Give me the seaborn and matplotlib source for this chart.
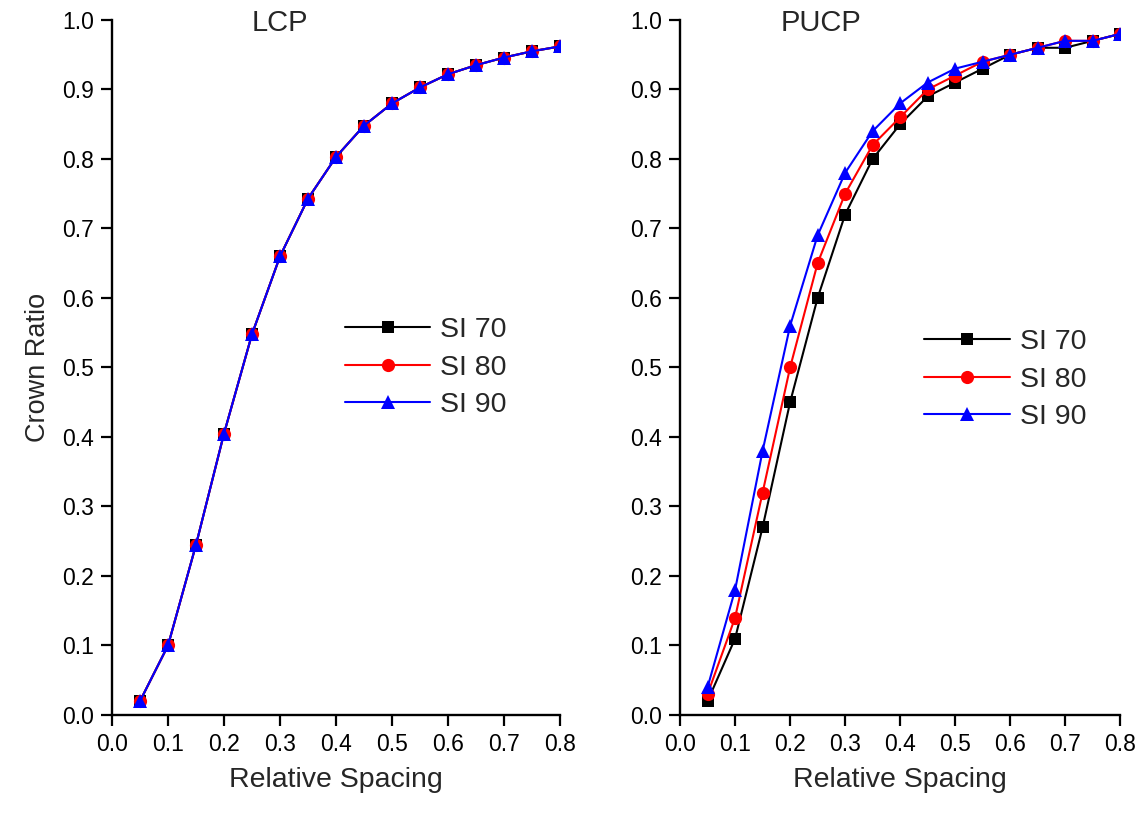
import numpy as np
import pandas as pd
import matplotlib
matplotlib.use("Agg")
import matplotlib.pyplot as plt
import seaborn as sns

# ---- data ----
spacing = [0.05, 0.10, 0.15, 0.20, 0.25, 0.30, 0.35, 0.40,
           0.45, 0.50, 0.55, 0.60, 0.65, 0.70, 0.75, 0.80]

lcp_si70 = [0.02, 0.10, 0.245, 0.405, 0.548, 0.66, 0.743, 0.803,
            0.848, 0.88, 0.903, 0.922, 0.935, 0.946, 0.955, 0.962]
lcp_si80 = [0.02, 0.10, 0.245, 0.405, 0.548, 0.66, 0.743, 0.803,
            0.848, 0.88, 0.903, 0.922, 0.935, 0.946, 0.955, 0.962]
lcp_si90 = [0.02, 0.10, 0.245, 0.405, 0.548, 0.66, 0.743, 0.803,
            0.848, 0.88, 0.903, 0.922, 0.935, 0.946, 0.955, 0.962]

pucp_si70 = [0.02, 0.11, 0.27, 0.45, 0.60, 0.72, 0.80, 0.85,
             0.89, 0.91, 0.93, 0.95, 0.96, 0.96, 0.97, 0.98]
pucp_si80 = [0.03, 0.14, 0.32, 0.50, 0.65, 0.75, 0.82, 0.86,
             0.90, 0.92, 0.94, 0.95, 0.96, 0.97, 0.97, 0.98]
pucp_si90 = [0.04, 0.18, 0.38, 0.56, 0.69, 0.78, 0.84, 0.88,
             0.91, 0.93, 0.94, 0.95, 0.96, 0.97, 0.97, 0.98]

series_names = ["SI 70", "SI 80", "SI 90"]
panel_titles = ["LCP", "PUCP"]
x_ticks = [0.0, 0.1, 0.2, 0.3, 0.4, 0.5, 0.6, 0.7, 0.8]
y_ticks = [0.0, 0.1, 0.2, 0.3, 0.4, 0.5, 0.6, 0.7, 0.8, 0.9, 1.0]


def long_frame(vals):
    rows = []
    for name, v in zip(series_names, vals):
        for x, y in zip(spacing, v):
            rows.append({"Relative Spacing": x, "Crown Ratio": y, "Site": name})
    return pd.DataFrame(rows)


df_lcp = long_frame([lcp_si70, lcp_si80, lcp_si90])
df_pucp = long_frame([pucp_si70, pucp_si80, pucp_si90])

sns.set_style("ticks")
plt.rcParams['font.family'] = ['Liberation Sans', 'DejaVu Sans']

palette = {"SI 70": "black", "SI 80": "#ff0000", "SI 90": "#0000ff"}
markers = {"SI 70": "s", "SI 80": "o", "SI 90": "^"}
sizes_m = {"SI 70": 8.5, "SI 80": 9.5, "SI 90": 10.5}

fig = plt.figure(figsize=(11.43, 8.26), dpi=100)
ax1 = fig.add_axes([0.098, 0.1344, 0.392, 0.8414])
ax2 = fig.add_axes([0.595, 0.1344, 0.385, 0.8414])

legend_pos = [(0.52, 0.572), (0.555, 0.555)]
title_x = [0.375, 0.32]

for ax, df, title, lpos, tx in zip([ax1, ax2], [df_lcp, df_pucp], panel_titles,
                                   legend_pos, title_x):
    for name in series_names:
        sub = df[df["Site"] == name]
        sns.lineplot(data=sub, x="Relative Spacing", y="Crown Ratio", ax=ax,
                     color=palette[name], marker=markers[name],
                     markersize=sizes_m[name], markeredgewidth=0,
                     linewidth=1.5, label=name)
    ax.set_xlim(0.0, 0.8)
    ax.set_ylim(0.0, 1.0)
    ax.set_xticks(x_ticks)
    ax.set_yticks(y_ticks)
    ax.set_xticklabels([f"{t:.1f}" for t in x_ticks], fontsize=16.5)
    ax.set_yticklabels([f"{t:.1f}" for t in y_ticks], fontsize=16.5)
    ax.tick_params(direction="out", length=8, width=1.6, pad=5, colors="black")
    for s in ["left", "bottom"]:
        ax.spines[s].set_linewidth(1.7)
        ax.spines[s].set_color("black")
    for s in ["top", "right"]:
        ax.spines[s].set_visible(False)
    ax.set_xlabel("Relative Spacing", fontsize=20.5, labelpad=8)
    ax.text(tx, 0.995, title, transform=ax.transAxes, ha="center", va="center",
            fontsize=21)
    ax.legend(loc="upper left", bbox_to_anchor=lpos, frameon=False,
              fontsize=20.5, handlelength=3.0, handletextpad=0.35,
              labelspacing=0.4, borderaxespad=0, borderpad=0)
    ax.grid(False)

ax1.set_ylabel("Crown Ratio", fontsize=19.5, labelpad=8)
ax2.set_ylabel("")

fig.savefig("out.png", dpi=100)
